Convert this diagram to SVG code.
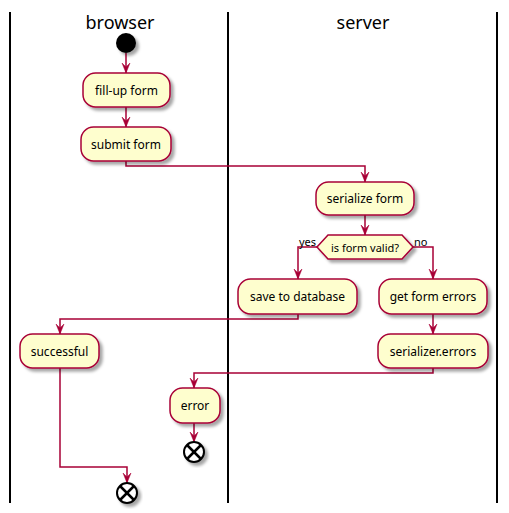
<svg xmlns="http://www.w3.org/2000/svg" width="509" height="513" viewBox="0 0 509 513">
<style>
.lane{stroke:#000;stroke-width:2;fill:none}
.title{font-family:"Noto Sans","DejaVu Sans",sans-serif;font-size:18px;fill:#000;text-anchor:middle}
.box{fill:#FEFECE;stroke:#A80036;stroke-width:1.5;filter:url(#sh)}
.lbl{font-family:"Noto Sans","DejaVu Sans",sans-serif;font-size:12px;fill:#000;text-anchor:middle}
.small{font-family:"Noto Sans","DejaVu Sans",sans-serif;font-size:11px;fill:#000}
.edge{fill:none;stroke:#A80036;stroke-width:1.5;marker-end:url(#arr)}
.endc{fill:#fff;stroke:#000;stroke-width:2;filter:url(#sh)}
.x{stroke:#000;stroke-width:2.5}
</style>
<defs>
<filter id="sh" x="-30%" y="-30%" width="160%" height="160%">
<feDropShadow dx="3" dy="3" stdDeviation="1.8" flood-color="#000" flood-opacity="0.35"/>
</filter>
<marker id="arr" viewBox="0 0 10 10" refX="10" refY="5" markerWidth="10" markerHeight="10" markerUnits="userSpaceOnUse" orient="auto">
<path d="M0,1 L10,5 L0,9 L4,5 Z" fill="#A80036" stroke="#A80036" stroke-width="0.5"/>
</marker>
</defs>
<g id="lanes">
<line class="lane" x1="10" y1="12" x2="10" y2="503"/>
<line class="lane" x1="228" y1="12" x2="228" y2="503"/>
<line class="lane" x1="497" y1="12" x2="497" y2="503"/>
<text class="title" x="120" y="29">browser</text>
<text class="title" x="363" y="29">server</text>
</g>
<g id="connectors">
<path class="edge" d="M126,53 V73"/>
<path class="edge" d="M126,107 V127"/>
<path class="edge" d="M126,161 V166 H365 V182"/>
<path class="edge" d="M365,215 V235"/>
<path class="edge" d="M317,247 H298 V279"/>
<path class="edge" d="M413,247 H433 V279"/>
<path class="edge" d="M433,314 V334"/>
<path class="edge" d="M298,314 V319 H60 V334"/>
<path class="edge" d="M433,368 V373 H194 V388"/>
<path class="edge" d="M194,423 V442"/>
<path class="edge" d="M60,368 V467 H127 V483"/>
<text class="small" x="316" y="246" text-anchor="end">yes</text>
<text class="small" x="414" y="246">no</text>
</g>
<g id="start">
<circle cx="126" cy="43" r="10" fill="#000" filter="url(#sh)"/>
</g>
<g id="fillup">
<rect class="box" x="83" y="73" width="87" height="34" rx="12.5"/>
<text class="lbl" x="126.5" y="94.5">fill-up form</text>
</g>
<g id="submit">
<rect class="box" x="81" y="127" width="90" height="34" rx="12.5"/>
<text class="lbl" x="126" y="148.5">submit form</text>
</g>
<g id="serialize">
<rect class="box" x="316" y="182" width="98" height="33" rx="12.5"/>
<text class="lbl" x="365" y="203">serialize form</text>
</g>
<g id="valid">
<polygon class="box" points="317,247 328,235 402,235 413,247 402,259 328,259"/>
<text class="small" x="365" y="251.5" text-anchor="middle" font-size="11.5">is form valid?</text>
</g>
<g id="save">
<rect class="box" x="238" y="279" width="119" height="35" rx="12.5"/>
<text class="lbl" x="297.5" y="301">save to database</text>
</g>
<g id="geterrors">
<rect class="box" x="379" y="279" width="108" height="35" rx="12.5"/>
<text class="lbl" x="433" y="301">get form errors</text>
</g>
<g id="sererrors">
<rect class="box" x="378" y="334" width="110" height="34" rx="12.5"/>
<text class="lbl" x="433" y="355.5">serializer.errors</text>
</g>
<g id="successful">
<rect class="box" x="20" y="334" width="79" height="34" rx="12.5"/>
<text class="lbl" x="59.5" y="355.5">successful</text>
</g>
<g id="error">
<rect class="box" x="170" y="388" width="50" height="35" rx="12.5"/>
<text class="lbl" x="195" y="410">error</text>
</g>
<g id="end1">
<circle class="endc" cx="194" cy="452" r="10"/>
<line class="x" x1="187" y1="445" x2="201" y2="459"/>
<line class="x" x1="201" y1="445" x2="187" y2="459"/>
</g>
<g id="end2">
<circle class="endc" cx="127" cy="493" r="10"/>
<line class="x" x1="120" y1="486" x2="134" y2="500"/>
<line class="x" x1="134" y1="486" x2="120" y2="500"/>
</g>
</svg>
